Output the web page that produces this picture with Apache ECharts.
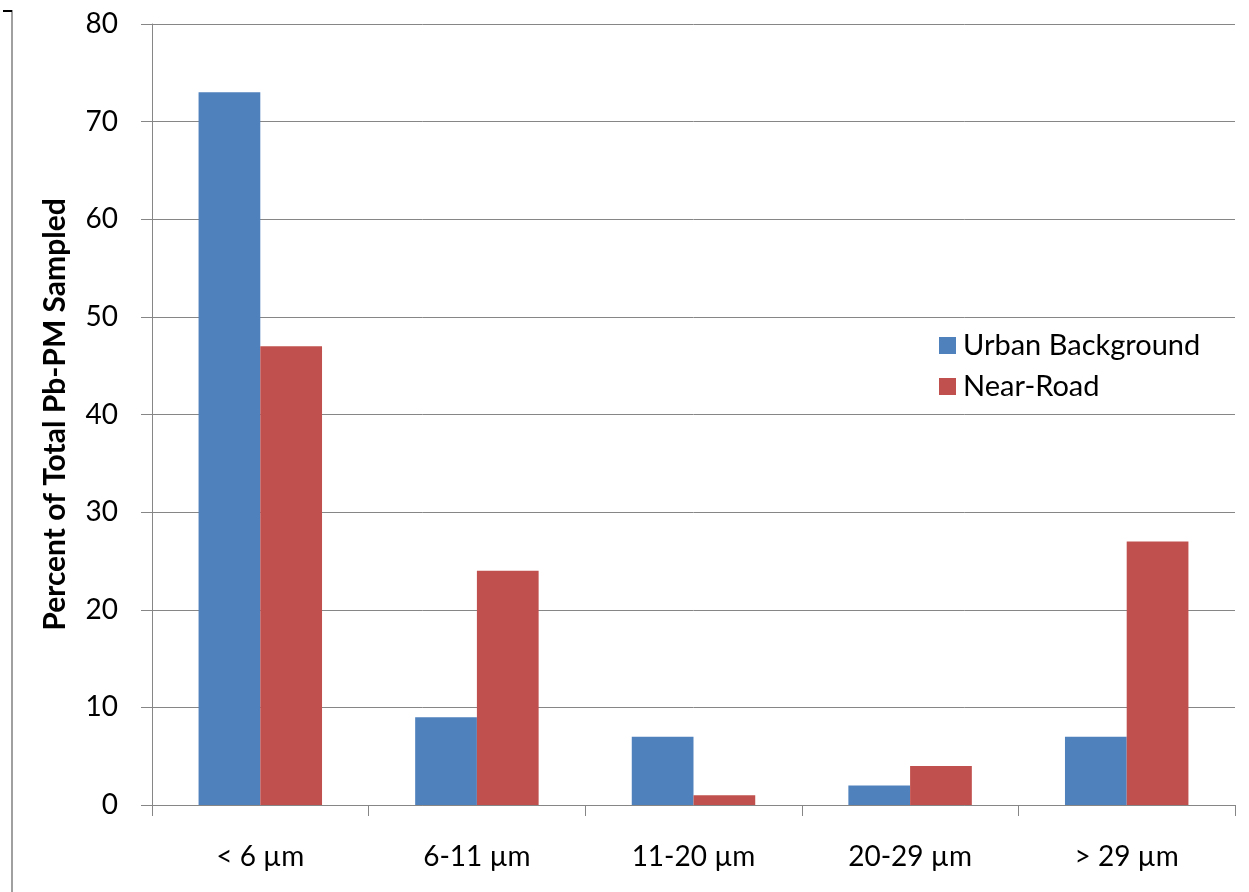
<!DOCTYPE html>
<html>
<head>
<meta charset="utf-8">
<script src="https://cdn.jsdelivr.net/npm/echarts@6/dist/echarts.min.js"></script>
<style>
html,body{margin:0;padding:0;background:#fff;}
#chart{width:1249px;height:892px;}
</style>
</head>
<body>
<div id="chart"></div>
<script>
const categories = ['< 6 µm', '6-11 µm', '11-20 µm', '20-29 µm', '> 29 µm'];
const urbanBackground = [73, 9, 7, 2, 7];
const nearRoad = [47, 24, 1, 4, 27];
const seriesNames = ['Urban Background', 'Near-Road'];
const yTitle = 'Percent of Total Pb-PM Sampled';

const FONT = 'Lato, "Open Sans", sans-serif';
const chart = echarts.init(document.getElementById('chart'));
chart.setOption({
  animation: false,
  backgroundColor: '#ffffff',
  grid: {left: 152, right: 14, top: 24, bottom: 87, containLabel: false},
  legend: {
    orient: 'vertical',
    left: 934, top: 326,
    itemWidth: 17, itemHeight: 17, itemGap: 12,
    icon: 'rect',
    textStyle: {fontFamily: FONT, fontSize: 29, color: '#000', padding: [0,0,0,2]},
    data: seriesNames
  },
  xAxis: {
    type: 'category',
    data: categories,
    axisLine: {show: true, lineStyle: {color: '#868686', width: 1}},
    axisTick: {show: true, length: 11, alignWithLabel: false, lineStyle: {color: '#868686'}},
    axisLabel: {fontFamily: FONT, fontSize: 28, color: '#000', margin: 38}
  },
  yAxis: {
    type: 'value',
    min: 0, max: 80, interval: 10,
    name: yTitle,
    nameLocation: 'middle',
    nameGap: 82,
    nameTextStyle: {fontFamily: FONT, fontSize: 30, fontWeight: 'bold', color: '#000'},
    axisLine: {show: true, lineStyle: {color: '#868686', width: 1}},
    axisTick: {show: true, length: 11, lineStyle: {color: '#868686'}},
    axisLabel: {fontFamily: FONT, fontSize: 28, color: '#000', margin: 34},
    splitLine: {show: true, lineStyle: {color: '#868686', width: 1}}
  },
  series: [
    {name: seriesNames[0], type: 'bar', data: urbanBackground, barGap: '0%', barCategoryGap: '43%',
     itemStyle: {color: '#4F81BD'}},
    {name: seriesNames[1], type: 'bar', data: nearRoad, barGap: '0%', barCategoryGap: '43%',
     itemStyle: {color: '#C0504D'}}
  ],
  graphic: [
    {type: 'line', shape: {x1: 12, y1: 10, x2: 12, y2: 892}, style: {stroke: '#a0a0a0', lineWidth: 2}},
    {type: 'line', shape: {x1: 3, y1: 11, x2: 12, y2: 11}, style: {stroke: '#000', lineWidth: 2}}
  ]
});
</script>
</body>
</html>
